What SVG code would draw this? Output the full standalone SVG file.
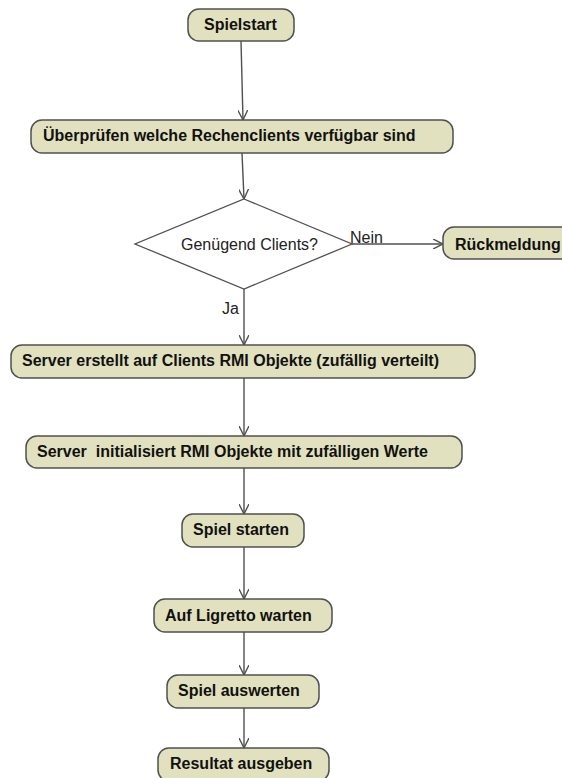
<svg xmlns="http://www.w3.org/2000/svg" width="562" height="778" viewBox="0 0 562 778">
<style>
.node rect{fill:#e2e1bf;stroke:#505050;stroke-width:1.5}
.node text{font-family:"Liberation Sans",Arial,sans-serif;font-size:16px;font-weight:bold;fill:#111;white-space:pre}
.dec polygon{fill:#fff;stroke:#505050;stroke-width:1.3}
.dec text{font-family:"Liberation Sans",Arial,sans-serif;font-size:16px;fill:#222}
.conn line{stroke:#505050;stroke-width:1.4;fill:none;marker-end:url(#arr)}
.lbl{font-family:"Liberation Sans",Arial,sans-serif;font-size:16px;fill:#222}
</style>
<defs>
<marker id="arr" viewBox="0 0 10 10" refX="10" refY="5" markerWidth="10" markerHeight="10" markerUnits="userSpaceOnUse" orient="auto">
<path d="M0,0 L10,5 L0,10" fill="none" stroke="#505050" stroke-width="1.4"/>
</marker>
</defs>
<rect width="562" height="778" fill="#fff"/>
<g id="connectors" class="conn">
<line x1="241" y1="41" x2="243" y2="120"/>
<line x1="242" y1="153" x2="244" y2="199"/>
<line x1="352" y1="244" x2="443" y2="244"/>
<line x1="244" y1="289" x2="244" y2="345"/>
<line x1="244" y1="378" x2="244" y2="436"/>
<line x1="244" y1="468" x2="244" y2="514"/>
<line x1="244" y1="547" x2="244" y2="599"/>
<line x1="244" y1="632" x2="244" y2="675"/>
<line x1="244" y1="708" x2="244" y2="748"/>
<text class="lbl" x="350" y="243">Nein</text>
<text class="lbl" x="222" y="314">Ja</text>
</g>
<g id="spielstart" class="node"><rect x="188" y="9" width="106" height="32" rx="11"/><text x="204" y="30">Spielstart</text></g>
<g id="ueberpruefen" class="node"><rect x="31" y="120" width="422" height="33" rx="11"/><text x="43" y="141">Überprüfen welche Rechenclients verfügbar sind</text></g>
<g id="entscheidung" class="dec"><polygon points="244,199 352,244 244,289 135,244"/><text x="181" y="250">Genügend Clients?</text></g>
<g id="rueckmeldung" class="node"><rect x="443" y="227" width="140" height="32" rx="11"/><text x="455" y="250">Rückmeldung</text></g>
<g id="server-erstellt" class="node"><rect x="11" y="345" width="464" height="33" rx="11"/><text x="22" y="366">Server erstellt auf Clients RMI Objekte (zufällig verteilt)</text></g>
<g id="server-init" class="node"><rect x="26" y="436" width="436" height="32" rx="11"/><text x="37" y="457">Server  initialisiert RMI Objekte mit zufälligen Werte</text></g>
<g id="spiel-starten" class="node"><rect x="182" y="514" width="122" height="33" rx="11"/><text x="193" y="535">Spiel starten</text></g>
<g id="ligretto" class="node"><rect x="154" y="599" width="178" height="33" rx="11"/><text x="165" y="621">Auf Ligretto warten</text></g>
<g id="auswerten" class="node"><rect x="167" y="675" width="152" height="33" rx="11"/><text x="178" y="696">Spiel auswerten</text></g>
<g id="resultat" class="node"><rect x="158" y="748" width="171" height="33" rx="11"/><text x="170" y="769">Resultat ausgeben</text></g>
</svg>
